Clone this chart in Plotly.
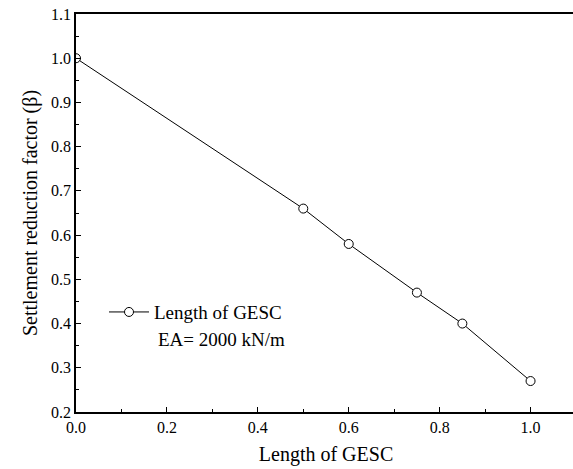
import plotly.graph_objects as go

length = [0.0, 0.5, 0.6, 0.75, 0.85, 1.0]
beta = [1.0, 0.66, 0.58, 0.47, 0.40, 0.27]
series_name = "Length of GESC"
note = "EA= 2000 kN/m"

font = "Liberation Serif"

fig = go.Figure()
fig.add_trace(go.Scatter(
    x=length, y=beta, mode="lines+markers", name=series_name,
    line=dict(color="black", width=1),
    marker=dict(symbol="circle", size=9, color="white",
                line=dict(color="black", width=1)),
))

fig.update_layout(
    width=576, height=469,
    margin=dict(l=76, r=0, t=14, b=57),
    paper_bgcolor="white", plot_bgcolor="white",
    font=dict(family=font, color="black", size=16),
    showlegend=True,
    legend=dict(x=0.056, y=0.251, xanchor="left", yanchor="middle",
                bgcolor="rgba(0,0,0,0)", font=dict(size=19, family=font),
                itemwidth=40),
    annotations=[dict(x=0.16, y=0.181, xref="paper", yref="paper",
                      xanchor="left", yanchor="middle", text=note,
                      showarrow=False, font=dict(size=19, family=font))],
)
fig.update_xaxes(
    range=[0, 1.1], tickvals=[0, 0.2, 0.4, 0.6, 0.8, 1.0],
    ticktext=["0.0", "0.2", "0.4", "0.6", "0.8", "1.0"],
    ticks="inside", ticklen=5, tickwidth=1.2, tickcolor="black",
    minor=dict(tickvals=[0.1, 0.3, 0.5, 0.7, 0.9], ticks="inside", ticklen=3, tickcolor="black"),
    showline=True, linecolor="black", linewidth=1.5, mirror=True,
    showgrid=False, zeroline=False,
    title=dict(text="Length of GESC", font=dict(size=20, family=font), standoff=12),
    tickfont=dict(size=16, family=font),
)
fig.update_yaxes(
    range=[0.2, 1.1], tickvals=[0.2, 0.3, 0.4, 0.5, 0.6, 0.7, 0.8, 0.9, 1.0, 1.1],
    ticktext=["0.2", "0.3", "0.4", "0.5", "0.6", "0.7", "0.8", "0.9", "1.0", "1.1"],
    ticks="inside", ticklen=5, tickwidth=1.2, tickcolor="black",
    minor=dict(tickvals=[0.25, 0.35, 0.45, 0.55, 0.65, 0.75, 0.85, 0.95, 1.05],
               ticks="inside", ticklen=3, tickcolor="black"),
    showline=True, linecolor="black", linewidth=1.5, mirror=False,
    showgrid=False, zeroline=False,
    title=dict(text="Settlement reduction factor (β)", font=dict(size=20, family=font), standoff=8),
    tickfont=dict(size=16, family=font),
)

fig.write_html("out.html", config={"displayModeBar": False},
               post_script="document.body.style.margin='0';document.body.style.overflow='hidden';document.documentElement.style.overflow='hidden';")
